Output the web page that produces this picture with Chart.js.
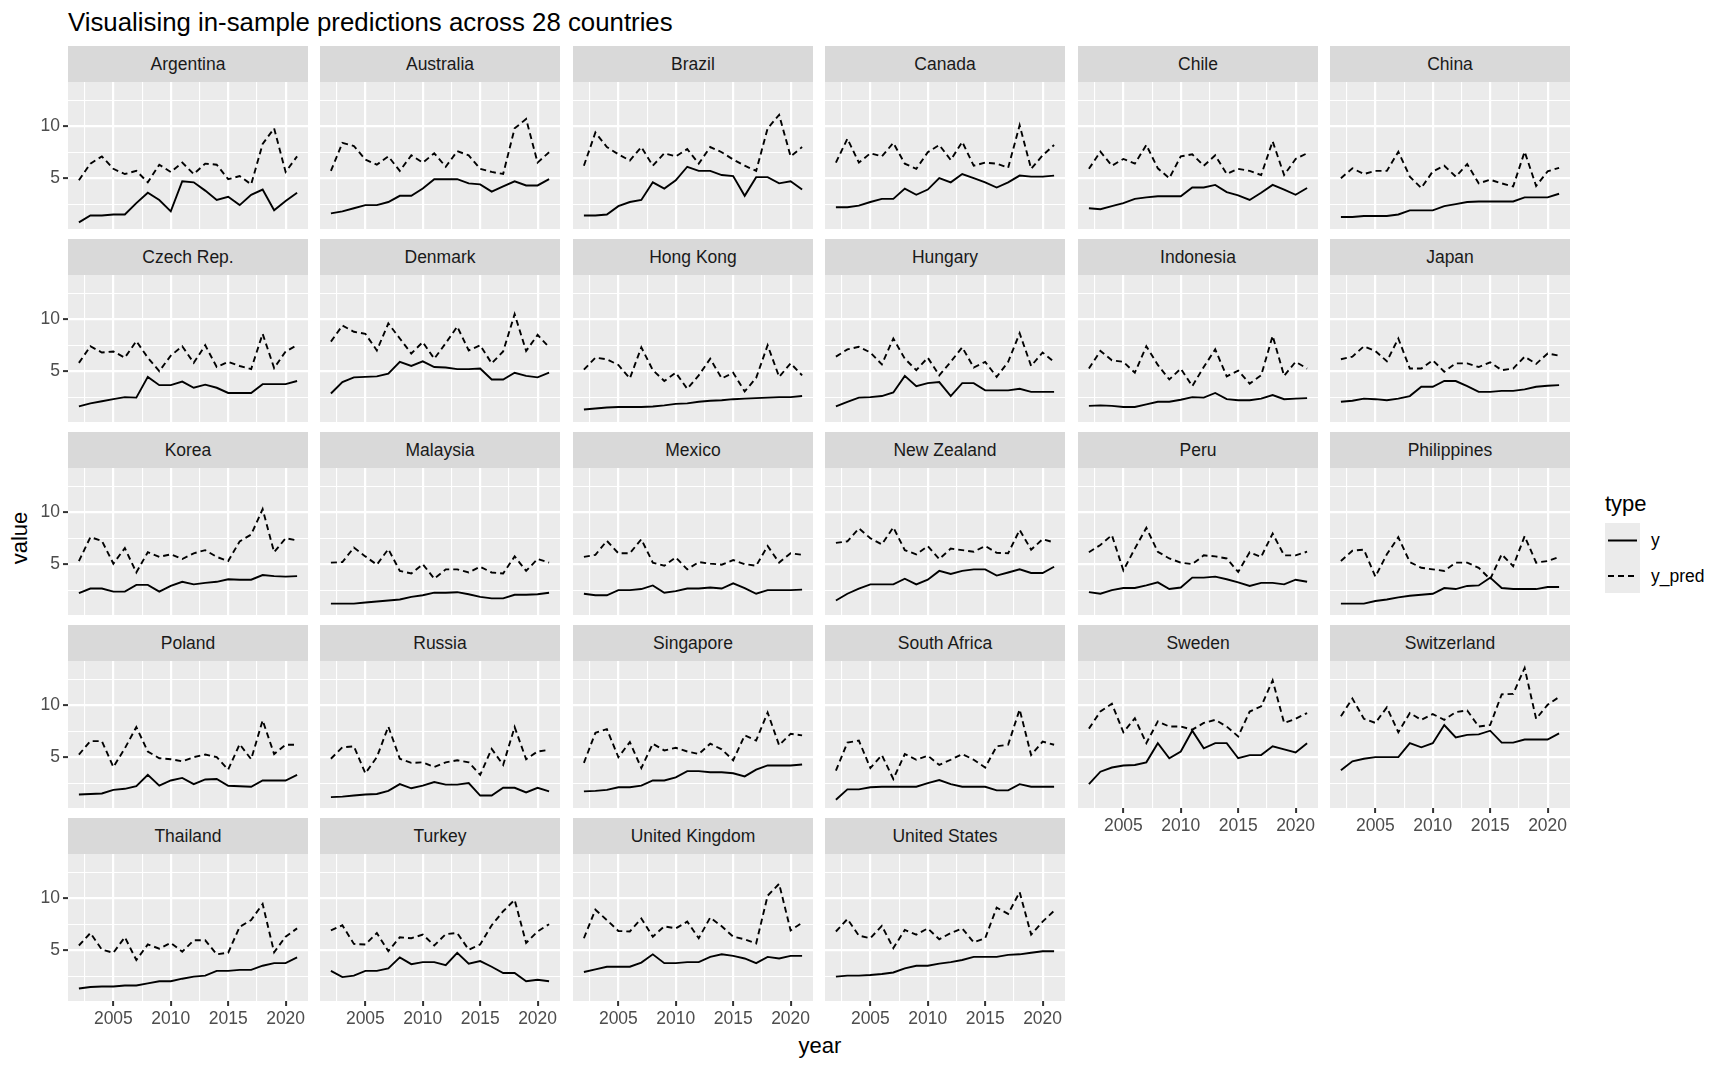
<!DOCTYPE html>
<html><head><meta charset="utf-8">
<script src="https://cdn.jsdelivr.net/npm/chart.js@4.4.1/dist/chart.umd.min.js"></script>
<style>
html,body{margin:0;padding:0;background:#fff;}
body{width:1728px;height:1067px;position:relative;overflow:hidden;font-family:"Liberation Sans",Arial,sans-serif;}
.abs{position:absolute;white-space:nowrap;}
.strip{position:absolute;background:#D9D9D9;color:#1A1A1A;font-size:17.5px;display:flex;align-items:center;justify-content:center;}
canvas{position:absolute;}
</style></head><body>
<div class="abs" style="left:68px;top:6px;font-size:25.8px;line-height:32px;color:#000;">Visualising in-sample predictions across 28 countries</div>
<div class="abs" style="left:20px;top:538px;font-size:22px;line-height:26px;color:#000;transform:translate(-50%,-50%) rotate(-90deg);">value</div>
<div class="abs" style="left:820px;top:1046px;font-size:22px;line-height:26px;color:#000;transform:translate(-50%,-50%);">year</div>
<div class="abs" style="left:1605px;top:491px;font-size:22px;line-height:26px;color:#000;">type</div>
<div class="abs" style="left:1605px;top:523px;width:35px;height:70px;background:#EBEBEB;"></div>
<svg class="abs" style="left:1605px;top:523px;" width="35" height="70">
  <line x1="3" y1="17.5" x2="32" y2="17.5" stroke="#000" stroke-width="2"/>
  <line x1="3" y1="53" x2="32" y2="53" stroke="#000" stroke-width="2" stroke-dasharray="6,4"/>
</svg>
<div class="abs" style="left:1651px;top:529px;font-size:17.5px;line-height:22px;color:#000;">y</div>
<div class="abs" style="left:1651px;top:565px;font-size:17.5px;line-height:22px;color:#000;">y_pred</div>
<div id="wrap"></div>
<script>
const years = [2002,2003,2004,2005,2006,2007,2008,2009,2010,2011,2012,2013,2014,2015,2016,2017,2018,2019,2020,2021];
const countries = ["Argentina","Australia","Brazil","Canada","Chile","China",
  "Czech Rep.","Denmark","Hong Kong","Hungary","Indonesia","Japan",
  "Korea","Malaysia","Mexico","New Zealand","Peru","Philippines",
  "Poland","Russia","Singapore","South Africa","Sweden","Switzerland",
  "Thailand","Turkey","United Kingdom","United States"];
// observed y, one row per country (same order as countries)
const yObs = [
  [0.74,1.4,1.4,1.5,1.5,2.6,3.6,2.9,1.8,4.7,4.6,3.8,2.9,3.2,2.4,3.4,3.9,1.9,2.8,3.6],
  [1.6,1.8,2.1,2.4,2.4,2.7,3.3,3.3,4.0,4.9,4.9,4.9,4.5,4.4,3.7,4.2,4.7,4.3,4.3,4.9],
  [1.4,1.4,1.5,2.3,2.7,2.9,4.6,4.0,4.8,6.1,5.7,5.7,5.3,5.2,3.3,5.1,5.1,4.5,4.7,3.9],
  [2.2,2.2,2.35,2.7,3.0,3.0,4.0,3.4,3.9,5.0,4.6,5.4,5.0,4.6,4.1,4.6,5.25,5.15,5.15,5.25],
  [2.1,2.0,2.3,2.6,3.0,3.15,3.25,3.25,3.25,4.1,4.1,4.35,3.65,3.35,2.9,3.6,4.35,3.9,3.4,4.05],
  [1.25,1.25,1.35,1.35,1.35,1.5,1.9,1.9,1.9,2.3,2.5,2.7,2.75,2.75,2.75,2.75,3.15,3.15,3.15,3.5],
  [1.6,1.9,2.1,2.3,2.5,2.45,4.45,3.65,3.65,4.0,3.4,3.7,3.4,2.9,2.9,2.9,3.75,3.75,3.75,4.05],
  [2.85,3.95,4.4,4.45,4.5,4.75,5.9,5.5,5.95,5.4,5.35,5.2,5.2,5.25,4.2,4.2,4.85,4.55,4.4,4.85],
  [1.3,1.4,1.5,1.55,1.55,1.55,1.6,1.7,1.85,1.9,2.05,2.15,2.2,2.3,2.35,2.4,2.45,2.5,2.5,2.6],
  [1.6,2.05,2.45,2.5,2.6,2.95,4.55,3.55,3.85,3.95,2.6,3.85,3.85,3.15,3.15,3.15,3.3,3.0,3.0,3.0],
  [1.65,1.7,1.65,1.55,1.55,1.8,2.05,2.05,2.25,2.5,2.45,2.9,2.3,2.2,2.2,2.35,2.7,2.3,2.35,2.4],
  [2.05,2.15,2.35,2.3,2.2,2.35,2.6,3.5,3.5,4.05,4.05,3.55,3.0,3.0,3.1,3.1,3.25,3.5,3.6,3.65],
  [2.2,2.65,2.65,2.35,2.35,3.0,3.0,2.35,2.9,3.3,3.05,3.2,3.3,3.55,3.5,3.5,3.95,3.85,3.8,3.85],
  [1.2,1.2,1.2,1.3,1.4,1.5,1.6,1.85,2.0,2.25,2.25,2.3,2.1,1.85,1.7,1.7,2.05,2.05,2.1,2.25],
  [2.15,2.0,2.0,2.5,2.5,2.6,2.95,2.25,2.4,2.65,2.65,2.75,2.65,3.15,2.7,2.15,2.5,2.5,2.5,2.55],
  [1.5,2.15,2.65,3.05,3.05,3.05,3.6,3.05,3.5,4.35,4.05,4.35,4.5,4.5,3.9,4.2,4.5,4.15,4.15,4.75],
  [2.3,2.15,2.5,2.7,2.7,2.95,3.25,2.6,2.75,3.7,3.7,3.8,3.55,3.25,2.9,3.2,3.2,3.05,3.5,3.3],
  [1.2,1.2,1.2,1.45,1.6,1.8,1.95,2.05,2.15,2.7,2.6,2.9,2.95,3.7,2.7,2.6,2.6,2.6,2.8,2.8],
  [1.4,1.45,1.5,1.85,1.95,2.2,3.3,2.25,2.75,3.0,2.4,2.85,2.9,2.25,2.2,2.15,2.75,2.75,2.75,3.3],
  [1.15,1.2,1.3,1.4,1.45,1.75,2.4,2.0,2.25,2.6,2.35,2.35,2.5,1.3,1.3,2.05,2.05,1.6,2.05,1.7],
  [1.7,1.75,1.85,2.1,2.1,2.25,2.75,2.75,3.05,3.65,3.65,3.55,3.55,3.45,3.15,3.8,4.2,4.2,4.2,4.3],
  [0.9,1.9,1.9,2.1,2.15,2.15,2.15,2.15,2.5,2.8,2.4,2.15,2.15,2.15,1.8,1.8,2.4,2.15,2.15,2.15],
  [2.4,3.6,4.0,4.2,4.25,4.5,6.35,4.9,5.55,7.55,5.85,6.35,6.35,4.9,5.2,5.2,6.05,5.75,5.45,6.35],
  [3.75,4.6,4.85,5.0,5.0,5.0,6.35,5.95,6.35,8.1,6.9,7.15,7.2,7.55,6.4,6.4,6.7,6.7,6.7,7.3],
  [1.3,1.45,1.5,1.5,1.6,1.6,1.8,2.0,2.0,2.25,2.45,2.55,3.0,3.0,3.1,3.1,3.5,3.75,3.75,4.3],
  [3.0,2.4,2.55,3.0,3.0,3.25,4.3,3.65,3.85,3.85,3.55,4.75,3.7,3.95,3.4,2.8,2.8,2.0,2.15,2.0],
  [2.9,3.15,3.4,3.4,3.4,3.8,4.6,3.75,3.75,3.85,3.85,4.35,4.6,4.45,4.2,3.75,4.35,4.2,4.45,4.45],
  [2.45,2.55,2.55,2.6,2.7,2.85,3.25,3.5,3.5,3.7,3.85,4.05,4.35,4.35,4.35,4.55,4.6,4.75,4.9,4.9]
];
// predicted y_pred, one row per country
const yPred = [
  [4.8,6.4,7.1,5.9,5.4,5.7,4.6,6.3,5.6,6.5,5.4,6.4,6.3,4.9,5.2,4.4,8.3,9.8,5.6,7.1],
  [5.7,8.4,8.1,6.8,6.3,7.1,5.7,7.2,6.5,7.4,6.1,7.6,7.2,5.9,5.6,5.4,9.8,10.7,6.5,7.5],
  [6.2,9.4,8.0,7.3,6.7,8.0,6.2,7.4,7.1,7.8,6.4,8.0,7.5,6.8,6.2,5.7,9.8,11.1,7.1,8.0],
  [6.5,8.8,6.5,7.4,7.1,8.4,6.4,5.9,7.5,8.2,6.75,8.5,6.2,6.5,6.4,6.0,10.1,5.9,7.2,8.2],
  [5.9,7.55,6.2,6.85,6.4,8.2,5.95,5.0,7.1,7.3,6.2,7.2,5.4,5.9,5.7,5.3,8.55,5.3,6.85,7.4],
  [5.0,5.95,5.4,5.7,5.7,7.55,5.15,4.05,5.65,6.2,5.15,6.35,4.5,4.85,4.5,4.2,7.55,4.25,5.65,6.0],
  [5.8,7.4,6.8,6.9,6.3,7.9,6.3,5.0,6.5,7.4,5.8,7.5,5.4,5.9,5.5,5.2,8.6,5.3,6.9,7.5],
  [7.85,9.4,8.8,8.6,7.0,9.6,8.15,6.7,7.8,6.2,7.7,9.3,7.0,7.5,5.75,6.9,10.5,6.95,8.5,7.3],
  [5.15,6.3,6.15,5.6,4.3,7.3,5.1,4.05,4.85,3.3,4.6,6.2,4.3,4.85,3.05,4.35,7.5,4.45,5.75,4.6],
  [6.4,7.1,7.35,6.8,5.65,8.15,6.2,5.1,6.3,4.6,5.9,7.3,5.35,5.9,4.45,5.9,8.65,5.5,6.8,5.9],
  [5.25,6.95,6.05,5.9,4.85,7.4,5.6,4.2,5.25,3.55,5.4,7.1,4.5,5.05,3.8,4.6,8.4,4.55,5.9,5.25],
  [6.15,6.4,7.4,6.95,5.95,8.15,5.25,5.25,6.05,4.95,5.75,5.75,5.4,5.85,5.1,5.25,6.4,5.7,6.7,6.5],
  [5.3,7.6,7.25,5.05,6.55,4.2,6.15,5.7,5.95,5.5,6.05,6.35,5.7,5.3,7.2,7.85,10.3,6.15,7.5,7.3],
  [5.15,5.2,6.6,5.75,4.95,6.45,4.35,4.1,5.0,3.6,4.5,4.5,4.2,4.75,4.2,4.1,5.75,4.35,5.5,5.15],
  [5.7,5.9,7.25,6.05,6.05,7.4,5.15,4.85,5.65,4.5,5.2,5.05,4.95,5.4,5.0,4.85,6.75,5.15,6.05,5.9],
  [7.05,7.2,8.45,7.5,6.9,8.55,6.35,5.95,6.75,5.5,6.5,6.35,6.2,6.75,6.1,6.05,8.3,6.4,7.4,7.1],
  [6.15,6.85,7.8,4.4,6.5,8.5,6.2,5.55,5.15,5.0,5.85,5.75,5.55,4.25,6.15,5.7,7.95,5.85,5.85,6.2],
  [5.3,6.3,6.4,3.8,5.95,7.6,5.2,4.65,4.5,4.35,5.15,5.15,4.65,3.55,5.95,4.8,7.7,5.15,5.3,5.7],
  [5.25,6.55,6.55,4.05,5.85,7.9,5.55,4.9,4.8,4.6,5.0,5.25,5.0,3.8,6.25,4.8,8.55,5.3,6.2,6.2],
  [4.85,5.95,6.05,3.45,5.0,7.95,4.85,4.45,4.5,4.05,4.5,4.7,4.5,3.3,5.8,4.25,7.9,4.8,5.55,5.7],
  [4.45,7.35,7.7,5.0,6.45,3.95,6.3,5.65,5.9,5.55,5.3,6.3,5.75,4.7,7.1,6.6,9.3,6.15,7.25,7.1],
  [3.7,6.4,6.6,3.95,5.2,2.9,5.3,4.75,5.15,4.25,4.75,5.3,4.75,4.0,6.05,6.2,9.6,5.2,6.5,6.2],
  [7.75,9.4,10.15,7.4,8.75,6.35,8.45,7.95,7.95,7.65,8.3,8.6,7.95,7.0,9.4,9.9,12.4,8.3,8.7,9.25],
  [8.95,10.65,8.7,8.3,9.8,7.4,9.25,8.6,9.15,8.6,9.35,9.5,7.95,8.1,11.05,11.1,13.6,8.7,10.05,10.8],
  [5.45,6.65,5.05,4.75,6.25,4.05,5.55,5.15,5.7,4.85,5.95,5.95,4.6,4.75,7.25,7.9,9.45,4.8,6.3,7.1],
  [6.9,7.4,5.6,5.55,6.65,4.9,6.25,6.15,6.5,5.45,6.55,6.65,5.05,5.55,7.4,8.75,9.85,5.7,6.8,7.5],
  [6.15,8.9,7.9,6.85,6.8,8.05,6.3,7.3,7.1,7.75,6.15,8.15,7.3,6.3,6.05,5.65,10.25,11.4,6.9,7.65],
  [6.8,8.0,6.4,6.15,7.35,5.2,6.95,6.5,7.1,6.05,6.65,7.1,5.75,6.15,9.1,8.5,10.6,6.5,7.75,8.8]
];
const xTickValues = [2002.5,2005,2007.5,2010,2012.5,2015,2017.5,2020];
const yTickValues = [2.5,5,7.5,10,12.5];
const xLimits = [2001.05, 2021.95];
const yLimits = [0.1, 14.27];

const colLeft = [68,320,573,825,1078,1330];
const rowTop = [46,239,432,625,818];
const PW = 240, SH = 36, PH = 147, YAW = 68, XAH = 45;
const FONT = "'Liberation Sans', Arial, sans-serif";
const isMajor = v => Math.abs(v % 5) < 1e-9;

const bgPlugin = {
  id: 'panelbg',
  beforeDraw(chart) {
    const a = chart.chartArea, c = chart.ctx;
    c.save(); c.fillStyle = '#EBEBEB';
    c.fillRect(a.left, a.top, a.right - a.left, a.bottom - a.top);
    c.restore();
  }
};

const wrap = document.getElementById('wrap');
countries.forEach((name, i) => {
  const r = Math.floor(i / 6), c = i % 6;
  const hasY = (c === 0);
  const hasX = (i + 6 >= countries.length);
  const strip = document.createElement('div');
  strip.className = 'strip';
  strip.style.left = colLeft[c] + 'px'; strip.style.top = rowTop[r] + 'px';
  strip.style.width = PW + 'px'; strip.style.height = SH + 'px';
  strip.textContent = name;
  wrap.appendChild(strip);

  const cv = document.createElement('canvas');
  const w = PW + (hasY ? YAW : 0), h = PH + (hasX ? XAH : 0);
  cv.width = w; cv.height = h;
  cv.style.width = w + 'px'; cv.style.height = h + 'px';
  cv.style.left = (colLeft[c] - (hasY ? YAW : 0)) + 'px';
  cv.style.top = (rowTop[r] + SH) + 'px';
  wrap.appendChild(cv);

  const mkGrid = (show) => ({
    color: '#FFFFFF',
    lineWidth: ctx => (ctx.tick && isMajor(ctx.tick.value)) ? 2.2 : 1.1,
    drawTicks: show,
    tickLength: 5,
    tickWidth: 2,
    tickColor: ctx => (ctx.tick && isMajor(ctx.tick.value)) ? '#333333' : 'rgba(0,0,0,0)'
  });
  const tickFont = { family: FONT, size: 17.5 };

  new Chart(cv, {
    type: 'line',
    data: {
      datasets: [
        { label: 'y', data: years.map((yr, k) => ({ x: yr, y: yObs[i][k] })),
          borderColor: '#000', borderWidth: 1.9, pointRadius: 0, tension: 0, fill: false },
        { label: 'y_pred', data: years.map((yr, k) => ({ x: yr, y: yPred[i][k] })),
          borderColor: '#000', borderWidth: 1.9, borderDash: [6, 4], pointRadius: 0, tension: 0, fill: false }
      ]
    },
    options: {
      responsive: false, animation: false, events: [],
      devicePixelRatio: 1,
      layout: { padding: 0 },
      plugins: { legend: { display: false }, tooltip: { enabled: false } },
      scales: {
        x: {
          type: 'linear', min: xLimits[0], max: xLimits[1],
          afterBuildTicks: s => { s.ticks = xTickValues.map(v => ({ value: v })); },
          afterFit: s => { s.height = hasX ? XAH : 0; s.paddingLeft = 0; s.paddingRight = 0; },
          border: { display: false },
          grid: mkGrid(hasX),
          ticks: { display: hasX, autoSkip: false, maxRotation: 0, minRotation: 0, padding: 3,
                   color: '#4D4D4D', font: tickFont,
                   callback: v => isMajor(v) ? String(v) : '' }
        },
        y: {
          type: 'linear', min: yLimits[0], max: yLimits[1],
          afterBuildTicks: s => { s.ticks = yTickValues.map(v => ({ value: v })); },
          afterFit: s => { s.width = hasY ? YAW : 0; s.paddingTop = 0; s.paddingBottom = 0; },
          border: { display: false },
          grid: mkGrid(hasY),
          ticks: { display: hasY, autoSkip: false, padding: 3,
                   color: '#4D4D4D', font: tickFont,
                   callback: v => isMajor(v) ? String(v) : '' }
        }
      }
    },
    plugins: [bgPlugin]
  });
});
</script>
</body></html>
